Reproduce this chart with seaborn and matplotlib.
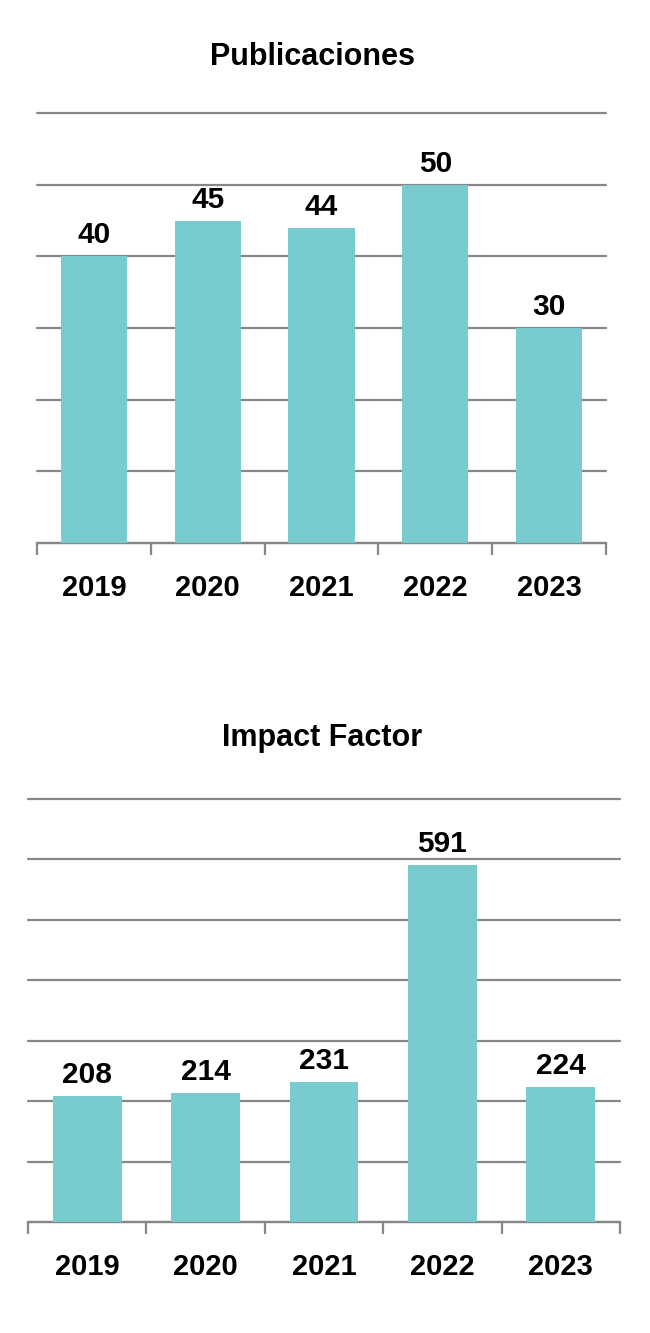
import matplotlib
matplotlib.use("Agg")
import matplotlib.pyplot as plt
import seaborn as sns
import pandas as pd

# Données
years = ["2019", "2020", "2021", "2022", "2023"]
publicaciones = [40, 45, 44, 50, 30]
impact_factor = [208, 214, 231, 591, 224]

BAR_COLOR = "#78CCD0"
GRID_COLOR = "#878787"

sns.set_style("white")
plt.rcParams["font.family"] = ["Liberation Sans", "DejaVu Sans"]
plt.rcParams["font.weight"] = "bold"
plt.rcParams["text.color"] = "black"
plt.rcParams["xtick.color"] = "black"

fig = plt.figure(figsize=(6.5, 13.33), dpi=100)


def draw_panel(ax, values, ymax, step):
    df = pd.DataFrame({"year": years, "value": values})
    sns.barplot(data=df, x="year", y="value", color=BAR_COLOR, width=0.58,
                saturation=1, linewidth=0, ax=ax, zorder=3)
    ax.set_xlim(-0.5, len(years) - 0.5)
    ax.set_ylim(0, ymax)
    ax.set_yticks(range(0, ymax + 1, step))
    ax.yaxis.grid(True, color=GRID_COLOR, linewidth=1.6, zorder=0)
    for gl in ax.get_ygridlines():
        gl.set_clip_on(False)
    ax.set_axisbelow(True)
    for side in ["top", "left", "right"]:
        ax.spines[side].set_visible(False)
    ax.spines["bottom"].set_color(GRID_COLOR)
    ax.spines["bottom"].set_linewidth(1.6)
    ax.tick_params(axis="y", left=False, labelleft=False)
    ax.tick_params(axis="x", which="major", bottom=False, length=0, pad=22,
                   labelsize=21, labelcolor="black")
    ax.set_xticks([i - 0.5 for i in range(len(years) + 1)], minor=True)
    ax.tick_params(axis="x", which="minor", bottom=True, length=8.5, width=1.6,
                   color=GRID_COLOR, direction="out")
    for lbl in ax.get_xticklabels():
        lbl.set_fontweight("bold")
    ax.set_xlabel("")
    ax.set_ylabel("")
    ax.bar_label(ax.containers[0], fontsize=21.5, fontweight="bold",
                 color="black", padding=5)


ax1 = fig.add_axes([37 / 650, 1 - 543 / 1333, 569 / 650, 430 / 1333])
draw_panel(ax1, publicaciones, 60, 10)

ax2 = fig.add_axes([28 / 650, 1 - 1222 / 1333, 592 / 650, 423 / 1333])
draw_panel(ax2, impact_factor, 700, 100)

fig.text(313 / 650, 1 - 57 / 1333, "Publicaciones", ha="center", va="center",
         fontsize=22, fontweight="bold", color="black")
fig.text(322 / 650, 1 - 738 / 1333, "Impact Factor", ha="center", va="center",
         fontsize=22, fontweight="bold", color="black")

fig.savefig("out.png", dpi=100, facecolor="white")
